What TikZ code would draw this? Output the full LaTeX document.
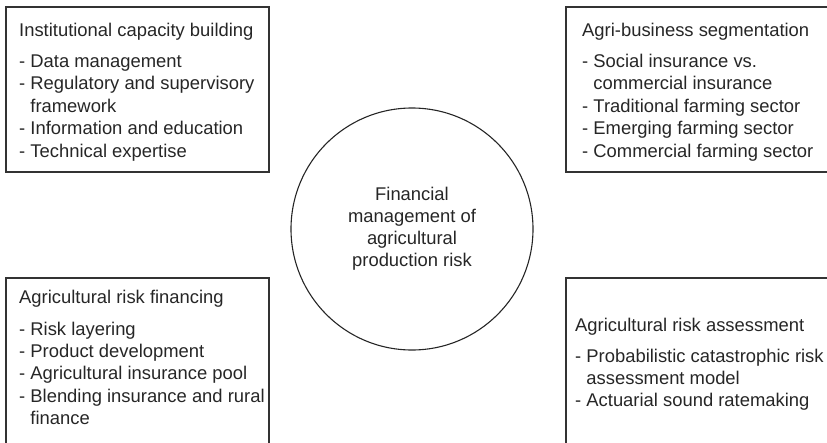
\documentclass[tikz,border=0pt]{standalone}
\usepackage{fontspec}
\setmainfont{Liberation Sans}
\begin{document}
\begin{tikzpicture}[x=1pt,y=-1pt,
  boxline/.style={draw=black!80, line width=1.3pt},
  txt/.style={anchor=base west, inner sep=0pt, text=black!85, font=\fontsize{18.4}{22}\selectfont},
  ctxt/.style={inner sep=0pt, text=black!85, align=center, font=\fontsize{18.4}{22}\selectfont}]
\useasboundingbox (0,0) rectangle (827,442);
\clip (0,0) rectangle (827,442);
% boxes
\draw[boxline] (6,7) rectangle (269,172);
\draw[boxline] (566,7) rectangle (850,172);
\draw[boxline] (6,278) rectangle (269,460);
\draw[boxline] (566,278) rectangle (850,460);
% centre
\node[circle, draw=black!85, line width=1.1pt, minimum size=242pt, ctxt] (c) at (412,229)
  {Financial\\management of\\agricultural\\production risk};
% top left
\node[txt] (tl0) at (19,36) {Institutional capacity building};
\node[txt] (tl1) at (19,67) {- Data management};
\node[txt] (tl2) at (19,89.5) {- Regulatory and supervisory};
\node[txt] (tl3) at (19,112) {\phantom{- }framework};
\node[txt] (tl4) at (19,134.5) {- Information and education};
\node[txt] (tl5) at (19,157) {- Technical expertise};
% top right
\node[txt] (tr0) at (582,36) {Agri-business segmentation};
\node[txt] (tr1) at (582,67) {- Social insurance vs.};
\node[txt] (tr2) at (582,89.5) {\phantom{- }commercial insurance};
\node[txt] (tr3) at (582,112) {- Traditional farming sector};
\node[txt] (tr4) at (582,134.5) {- Emerging farming sector};
\node[txt] (tr5) at (582,157) {- Commercial farming sector};
% bottom left
\node[txt] (bl0) at (19,303) {Agricultural risk financing};
\node[txt] (bl1) at (19,335) {- Risk layering};
\node[txt] (bl2) at (19,357) {- Product development};
\node[txt] (bl3) at (19,379.5) {- Agricultural insurance pool};
\node[txt] (bl4) at (19,402) {- Blending insurance and rural};
\node[txt] (bl5) at (19,424) {\phantom{- }finance};
% bottom right
\node[txt] (br0) at (575,331) {Agricultural risk assessment};
\node[txt] (br1) at (575,362) {- Probabilistic catastrophic risk};
\node[txt] (br2) at (575,384) {\phantom{- }assessment model};
\node[txt] (br3) at (575,406) {- Actuarial sound ratemaking};
\end{tikzpicture}
\end{document}
